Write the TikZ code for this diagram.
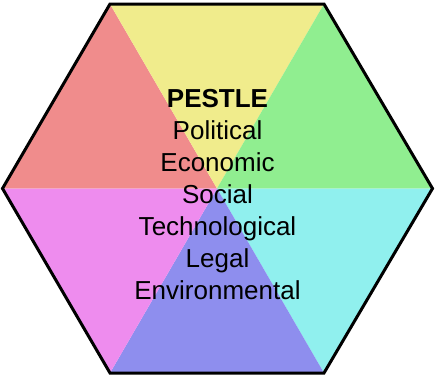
\documentclass[tikz,border=0pt]{standalone}
\usepackage{fontspec}
\setmainfont{Liberation Sans}
\definecolor{sred}{RGB}{240,140,140}
\definecolor{syellow}{RGB}{240,236,140}
\definecolor{sgreen}{RGB}{144,238,144}
\definecolor{scyan}{RGB}{144,240,238}
\definecolor{sblue}{RGB}{142,142,238}
\definecolor{smagenta}{RGB}{238,140,238}
\begin{document}
\begin{tikzpicture}[x=1pt,y=-1pt,
  txt/.style={anchor=base,inner sep=0pt,font=\fontsize{26}{30}\selectfont}]
\useasboundingbox (0,0) rectangle (442,376);
\coordinate (C) at (217,188.5);
\coordinate (L) at (2.5,188.5);
\coordinate (TL) at (110,4);
\coordinate (TR) at (324,4);
\coordinate (R) at (432.5,188.5);
\coordinate (BR) at (324,373);
\coordinate (BL) at (110,373);
\fill[sred] (C) -- (L) -- (TL) -- cycle;
\fill[syellow] (C) -- (TL) -- (TR) -- cycle;
\fill[sgreen] (C) -- (TR) -- (R) -- cycle;
\fill[scyan] (C) -- (R) -- (BR) -- cycle;
\fill[sblue] (C) -- (BR) -- (BL) -- cycle;
\fill[smagenta] (C) -- (BL) -- (L) -- cycle;
\draw[line width=3pt,line join=miter] (L) -- (TL) -- (TR) -- (R) -- (BR) -- (BL) -- cycle;
\node[txt] (t0) at (217.5,107.3) {\bfseries PESTLE};
\node[txt] (t1) at (217.5,139.5) {Political};
\node[txt] (t2) at (217.5,171.6) {Economic};
\node[txt] (t3) at (217.5,203.5) {Social};
\node[txt] (t4) at (217.5,235.6) {Technological};
\node[txt] (t5) at (217.5,267.6) {Legal};
\node[txt] (t6) at (217.5,299.5) {Environmental};
\end{tikzpicture}
\end{document}
